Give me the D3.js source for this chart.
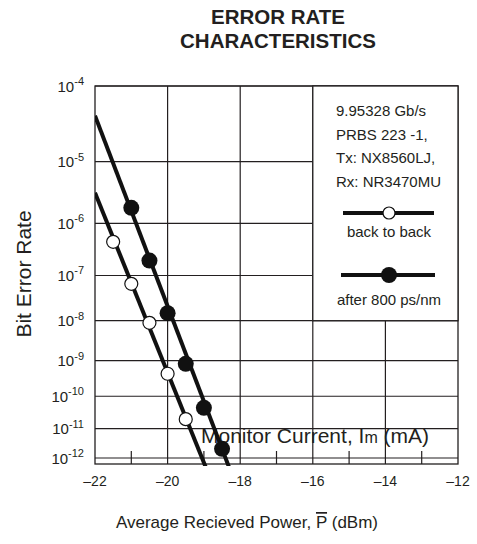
<!DOCTYPE html>
<html lang="en">
<head>
<meta charset="UTF-8">
<title>Error Rate Characteristics</title>
<script src="https://d3js.org/d3.v7.min.js"></script>
<style>
    body { margin: 0; padding: 0; background: #fff; }
    svg { display: block; font-family: "Liberation Sans", Arial, sans-serif; }
    text { fill: #231f20; }
</style>
</head>
<body>
<div id="chart"></div>
<script>
// Data
const powerTicks = [-22, -20, -18, -16, -14, -12];
const minorTicks = [-21, -19, -17, -15, -13];
const berExponents = [4, 5, 6, 7, 8, 9, 10, 11, 12];

// back to back (open circles)
const backPower = [-21.5, -21.0, -20.5, -20.0, -19.5];
const backBer = [4.6e-7, 6.7e-8, 8.9e-9, 4.4e-10, 2.0e-11];
const backFit = [[-22, 3.3e-6], [-18.75, 1e-13]];

// after 800 ps/nm (filled circles)
const afterPower = [-21.0, -20.5, -20.0, -19.5, -19.0, -18.5];
const afterBer = [1.85e-6, 2.0e-7, 1.5e-8, 8.2e-10, 4.5e-11, 2.1e-12];
const afterFit = [[-22, 4.3e-5], [-18.12, 1e-13]];

const legendNotes = ["9.95328 Gb/s", "PRBS 223 -1,", "Tx: NX8560LJ,", "Rx: NR3470MU"];

const width = 477, height = 544;
const plotL = 95, plotR = 458, plotT = 86, lastDecade = 458, plotB = 464;

const svg = d3.select('#chart').append('svg')
    .attr('width', width)
    .attr('height', height);

// BER paper: log(-log(BER)) scale
const t = ber => Math.log10(-Math.log10(ber));
const x = d3.scaleLinear().domain([-22, -12]).range([plotL, plotR]);
const yT = d3.scaleLinear().domain([Math.log10(4), Math.log10(12)]).range([plotT, lastDecade]);
const y = ber => yT(t(ber));

const ink = '#231f20';

// Title
svg.append('text')
    .attr('x', 278).attr('y', 24)
    .attr('text-anchor', 'middle')
    .style('font-weight', 'bold').style('font-size', '20.5px')
    .text('ERROR RATE');
svg.append('text')
    .attr('x', 278).attr('y', 48)
    .attr('text-anchor', 'middle')
    .style('font-weight', 'bold').style('font-size', '20.5px')
    .text('CHARACTERISTICS');

// horizontal grid (one per decade)
svg.append('g')
    .selectAll('line')
    .data(berExponents)
    .join('line')
    .attr('x1', plotL).attr('x2', plotR)
    .attr('y1', d => y(Math.pow(10, -d)))
    .attr('y2', d => y(Math.pow(10, -d)))
    .attr('stroke', ink).attr('stroke-width', 1.2);

// vertical grid
svg.append('g')
    .selectAll('line')
    .data(powerTicks.slice(1, -1))
    .join('line')
    .attr('x1', d => x(d)).attr('x2', d => x(d))
    .attr('y1', plotT).attr('y2', plotB)
    .attr('stroke', ink).attr('stroke-width', 1.2);

// minor ticks along the bottom
svg.append('g')
    .selectAll('line')
    .data(minorTicks)
    .join('line')
    .attr('x1', d => x(d)).attr('x2', d => x(d))
    .attr('y1', plotB - 13).attr('y2', plotB)
    .attr('stroke', ink).attr('stroke-width', 1.2);

// frame
svg.append('rect')
    .attr('x', plotL).attr('y', plotT)
    .attr('width', plotR - plotL).attr('height', plotB - plotT)
    .attr('fill', 'none').attr('stroke', ink).attr('stroke-width', 1.3);

// legend box covers the top-right cell block
const legX = x(-16), legY = y(1e-8);
svg.append('rect')
    .attr('x', legX).attr('y', plotT)
    .attr('width', plotR - legX).attr('height', legY - plotT)
    .attr('fill', '#fff').attr('stroke', ink).attr('stroke-width', 1.3);

svg.append('g')
    .selectAll('text')
    .data(legendNotes)
    .join('text')
    .attr('x', 336)
    .attr('y', (d, i) => 116 + i * 23.5)
    .style('font-size', '15px')
    .text(d => d);

// legend samples
const legCx = 389;
svg.append('line')
    .attr('x1', 343).attr('x2', 434).attr('y1', 213).attr('y2', 213)
    .attr('stroke', '#111').attr('stroke-width', 4);
svg.append('circle')
    .attr('cx', legCx).attr('cy', 213).attr('r', 6)
    .attr('fill', '#fff').attr('stroke', '#111').attr('stroke-width', 1.2);
svg.append('text')
    .attr('x', legCx).attr('y', 237)
    .attr('text-anchor', 'middle').style('font-size', '15px')
    .text('back to back');

svg.append('line')
    .attr('x1', 341).attr('x2', 435).attr('y1', 275).attr('y2', 275)
    .attr('stroke', '#111').attr('stroke-width', 4);
svg.append('circle')
    .attr('cx', legCx).attr('cy', 275).attr('r', 8)
    .attr('fill', '#111');
svg.append('text')
    .attr('x', legCx).attr('y', 305)
    .attr('text-anchor', 'middle').style('font-size', '15px')
    .text('after 800 ps/nm');

// stray label left over in the source figure
const mon = svg.append('text')
    .attr('x', 201).attr('y', 443)
    .style('font-size', '21px');
mon.append('tspan').text('Monitor Current, I');
mon.append('tspan').style('font-size', '16px').text('m');
mon.append('tspan').text(' (mA)');

// fitted lines, clipped to plot
svg.append('clipPath').attr('id', 'plot-clip')
    .append('rect')
    .attr('x', plotL).attr('y', plotT)
    .attr('width', plotR - plotL).attr('height', plotB - plotT + 2);

const line = d3.line().x(d => x(d[0])).y(d => y(d[1]));
const fits = svg.append('g').attr('clip-path', 'url(#plot-clip)');
[backFit, afterFit].forEach(f => {
    fits.append('path')
        .attr('d', line(f))
        .attr('fill', 'none')
        .attr('stroke', '#111')
        .attr('stroke-width', 4);
});

// points
svg.append('g')
    .selectAll('circle')
    .data(backPower.map((p, i) => [p, backBer[i]]))
    .join('circle')
    .attr('cx', d => x(d[0])).attr('cy', d => y(d[1]))
    .attr('r', 6.5)
    .attr('fill', '#fff').attr('stroke', '#111').attr('stroke-width', 1.2);

svg.append('g')
    .selectAll('circle')
    .data(afterPower.map((p, i) => [p, afterBer[i]]))
    .join('circle')
    .attr('cx', d => x(d[0])).attr('cy', d => y(d[1]))
    .attr('r', 8)
    .attr('fill', '#111');

// y tick labels: 10^-n
const yLabels = svg.append('g')
    .selectAll('text')
    .data(berExponents)
    .join('text')
    .attr('x', 84)
    .attr('y', d => y(Math.pow(10, -d)) + 5.5)
    .attr('text-anchor', 'end')
    .style('font-size', '15px');
yLabels.append('tspan').text('10');
yLabels.append('tspan')
    .attr('dy', -6.5)
    .style('font-size', '11px')
    .text(d => '-' + d);

// x tick labels
svg.append('g')
    .selectAll('text')
    .data(powerTicks)
    .join('text')
    .attr('x', d => x(d))
    .attr('y', 486)
    .attr('text-anchor', 'middle')
    .style('font-size', '14px')
    .text(d => '\u2013' + Math.abs(d));

// axis titles
svg.append('text')
    .attr('transform', 'translate(31,274) rotate(-90)')
    .attr('text-anchor', 'middle')
    .style('font-size', '21px')
    .text('Bit Error Rate');

const xt = svg.append('text')
    .attr('x', 247).attr('y', 528)
    .attr('text-anchor', 'middle')
    .style('font-size', '17px');
xt.append('tspan').text('Average Recieved Power, ');
xt.append('tspan').style('text-decoration', 'overline').text('P');
xt.append('tspan').text(' (dBm)');
</script>
</body>
</html>
